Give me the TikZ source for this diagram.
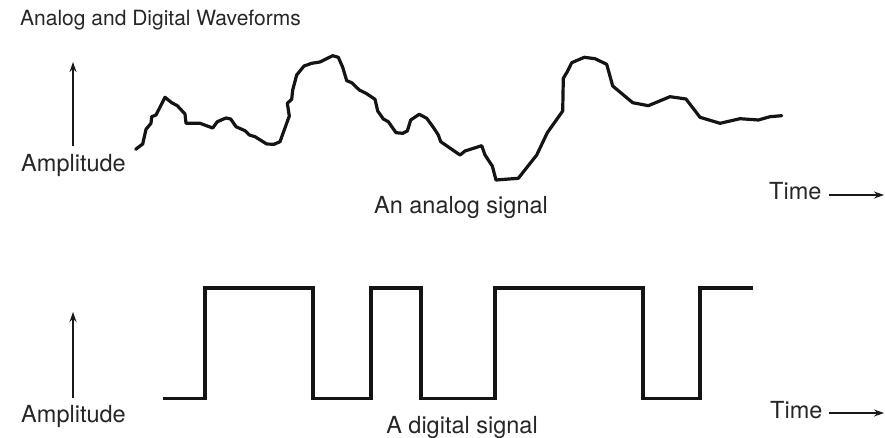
\documentclass[tikz,border=0pt]{standalone}
\usepackage{fontspec}
\setmainfont{TeX Gyre Heros}
\usetikzlibrary{arrows.meta}
\begin{document}
\begin{tikzpicture}[x=1pt,y=-1pt,
  wave/.style={line width=3.2pt,line join=round,line cap=round,color=black!92},
  axisarrow/.style={line width=1.5pt,color=black!90,-{Stealth[length=10pt,width=7pt]}},
  lbl/.style={inner sep=0pt,color=black!85,font=\fontsize{23.5}{26}\selectfont},
  ttl/.style={inner sep=0pt,color=black!85,font=\fontsize{21}{24}\selectfont}]
\useasboundingbox (0,0) rectangle (885,438);
\node[ttl,anchor=base west] (title) at (20,26) {Analog and Digital Waveforms};
% analog
\coordinate (a0) at (73,146);
\coordinate (a1) at (73,62);
\draw[axisarrow] (a0) -- (a1);
\node[lbl,anchor=base west] (amp1) at (21,172) {Amplitude};
\node[lbl,anchor=base] (asig) at (461,214) {An analog signal};
\node[lbl,anchor=base west] (time1) at (769,200) {Time};
\coordinate (t1a) at (829,195);
\coordinate (t1b) at (884,195);
\draw[axisarrow] (t1a) -- (t1b);
\draw[wave] (135.7,149.3) -- (142.7,144) -- (146,129.3) -- (151,123.3) -- (151.7,116.7) -- (156,115) -- (165,97.3) -- (171.7,102.7) -- (177.3,105.7) -- (185,114) -- (186,123.3) -- (200,123.3) -- (212.7,128) -- (217.3,121.7) -- (226,118) -- (230.7,119) -- (236,126.7) -- (245,130.7) -- (249.3,135) -- (255,136.7) -- (266.7,144) -- (274,144.3) -- (280,141.7) -- (289.3,116) -- (287.3,103.3) -- (291.7,99.3) -- (292.7,90) -- (296.7,75) -- (304,66) -- (311.7,63.3) -- (320,62) -- (332.7,55.7) -- (338.3,57.3) -- (342.7,67.3) -- (346.7,80.7) -- (351.7,82.7) -- (359.3,90) -- (366,93.3) -- (375,99.3) -- (377.7,111) -- (383.3,119) -- (388.3,121.7) -- (396,132.7) -- (402.7,133.3) -- (407.3,131) -- (410.7,120) -- (419.3,114.3) -- (426.7,118.3) -- (433.3,127.3) -- (438.3,135) -- (440.7,141.7) -- (460,155) -- (465,151) -- (481.7,145.7) -- (485,155) -- (492.3,166) -- (496,180) -- (518.3,178.3) -- (536.7,155) -- (547.3,132.7) -- (562.7,111) -- (563.3,78.3) -- (567.3,71.7) -- (571.7,62.7) -- (584.3,57.3) -- (595,58.7) -- (606.7,64.3) -- (612.7,86) -- (632.7,102.7) -- (648.3,105.7) -- (670,96.7) -- (686,99) -- (700,117.3) -- (720,123.3) -- (740,118.7) -- (758.3,120) -- (770,116.7) -- (781.7,115.7);
% digital
\coordinate (d0) at (73,398);
\coordinate (d1) at (73,312);
\draw[axisarrow] (d0) -- (d1);
\node[lbl,anchor=base west] (amp2) at (21,422) {Amplitude};
\node[lbl,anchor=base] (dsig) at (462,433) {A digital signal};
\node[lbl,anchor=base west] (time2) at (770,418) {Time};
\coordinate (t2a) at (829,413);
\coordinate (t2b) at (884,413);
\draw[axisarrow] (t2a) -- (t2b);
\draw[wave,line cap=butt,line join=miter] (163,398.5) -- (205,398.5) -- (205,288) -- (313,288) -- (313,398.5) -- (371,398.5) -- (371,288) -- (421,288) -- (421,398.5) -- (495,398.5) -- (495,288) -- (643,288) -- (643,398.5) -- (700,398.5) -- (700,288) -- (753,288);
\end{tikzpicture}
\end{document}
